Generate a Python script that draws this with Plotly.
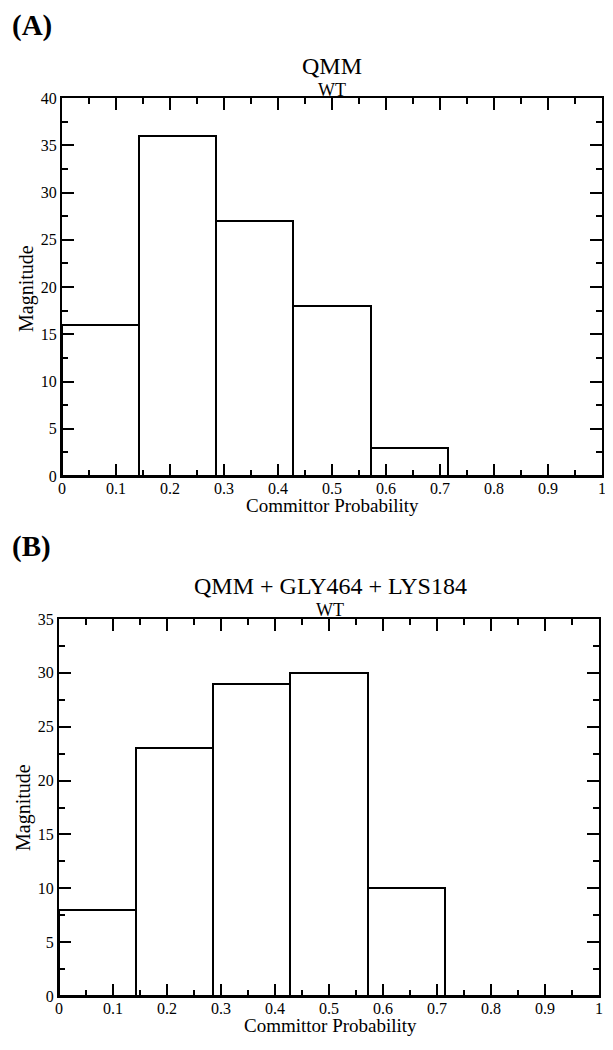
import plotly.graph_objects as go

# bin left edges (7 equal bins on [0, 1])
bin_left = [0.0, 0.142857, 0.285714, 0.428571, 0.571429, 0.714286, 0.857143]
bin_width = 0.142857

counts_a = [16, 36, 27, 18, 3, 0, 0]
counts_b = [8, 23, 29, 30, 10, 0, 0]

x_ticks = [0, 0.1, 0.2, 0.3, 0.4, 0.5, 0.6, 0.7, 0.8, 0.9, 1]
x_ticktext = ["0", "0.1", "0.2", "0.3", "0.4", "0.5", "0.6", "0.7", "0.8", "0.9", "1"]

# page has an 8px body margin, so the figure is shrunk and shifted to fit
OFF = 8
W, H = 613 - OFF, 1050 - OFF
FONT = "Liberation Serif"

fig = go.Figure()

for i, counts in enumerate([counts_a, counts_b]):
    ax = "" if i == 0 else "2"
    fig.add_trace(go.Bar(
        x=bin_left, y=counts, width=bin_width, offset=0,
        marker=dict(color="white", line=dict(color="black", width=2)),
        xaxis="x" + ax, yaxis="y" + ax, showlegend=False,
    ))

minor = dict(ticklen=6, tickwidth=2, ticks="inside", tickcolor="black")
axis_common = dict(
    showline=True, linecolor="black", linewidth=2, mirror="allticks",
    ticks="inside", ticklen=12, tickwidth=2, tickcolor="black",
    showgrid=False, zeroline=False, automargin=False,
    tickfont=dict(family=FONT, size=16, color="black"),
)


def xdom(a, b):
    return [(a - OFF) / W, (b - OFF) / W]


def ydom(top, bottom):
    return [1 - (bottom - OFF) / H, 1 - (top - OFF) / H]


fig.update_layout(
    width=W, height=H,
    margin=dict(l=0, r=0, t=0, b=0),
    plot_bgcolor="white", paper_bgcolor="white",
    font=dict(family=FONT, color="black"),
    bargap=0,
    xaxis=dict(axis_common, domain=xdom(62, 602), range=[0, 1], anchor="y",
               tickvals=x_ticks, ticktext=x_ticktext, ticklabelstandoff=-3,
               minor=dict(minor, dtick=0.05, tick0=0)),
    yaxis=dict(axis_common, domain=ydom(98, 476), range=[0, 40], anchor="x",
               dtick=5, minor=dict(minor, dtick=2.5)),
    xaxis2=dict(axis_common, domain=xdom(59, 599), range=[0, 1], anchor="y2",
                tickvals=x_ticks, ticktext=x_ticktext, ticklabelstandoff=-3,
                minor=dict(minor, dtick=0.05, tick0=0)),
    yaxis2=dict(axis_common, domain=ydom(619, 996), range=[0, 35], anchor="x2",
                dtick=5, minor=dict(minor, dtick=2.5)),
)


def ann(text, x, y, size, bold=False, angle=0, xanchor="center"):
    fig.add_annotation(
        text=f"<b>{text}</b>" if bold else text,
        x=(x - OFF) / W, y=1 - (y - OFF) / H, xref="paper", yref="paper",
        showarrow=False, xanchor=xanchor, yanchor="middle", textangle=angle,
        font=dict(family=FONT, size=size, color="black"),
    )


ann("(A)", 10, 25, 29, bold=True, xanchor="left")
ann("QMM", 332, 66, 24)
ann("WT", 332, 90, 18)
ann("Committor Probability", 332, 505, 19)
ann("Magnitude", 26, 289, 20, angle=-90)

ann("(B)", 10, 546, 29, bold=True, xanchor="left")
ann("QMM + GLY464 + LYS184", 330, 586, 24)
ann("WT", 330, 610, 18)
ann("Committor Probability", 330, 1025, 19)
ann("Magnitude", 23, 808, 20, angle=-90)

fig.write_html("out.html")
